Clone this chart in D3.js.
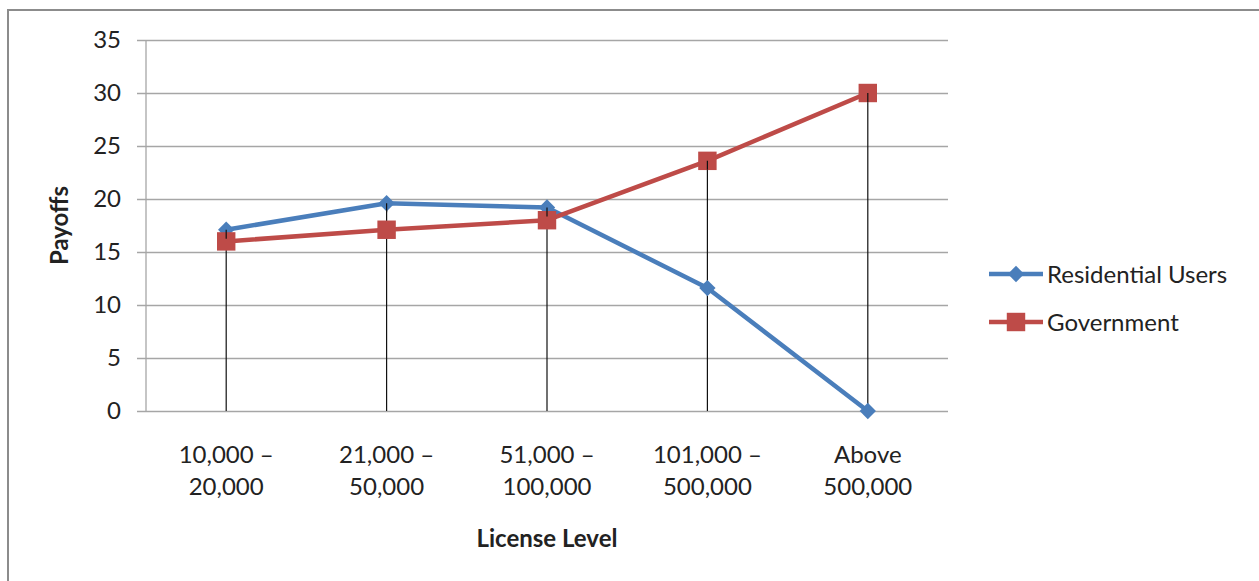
<!DOCTYPE html>
<html>
<head>
<meta charset="utf-8">
<script src="https://cdn.jsdelivr.net/npm/d3@7"></script>
<style>
  html, body { margin: 0; padding: 0; background: #fff; }
  svg { display: block; }
  text { font-family: Lato, "Open Sans", sans-serif; fill: #222; }
</style>
</head>
<body>
<svg id="chart" width="1259" height="581"></svg>
<script>
// License level categories (two-line labels)
const categories = [
  ["10,000 –", "20,000"],
  ["21,000 –", "50,000"],
  ["51,000 –", "100,000"],
  ["101,000 –", "500,000"],
  ["Above", "500,000"]
];
const residentialUsers = [17.1, 19.6, 19.2, 11.6, 0];
const government = [16.0, 17.1, 18.0, 23.6, 30.0];
const yTicks = [0, 5, 10, 15, 20, 25, 30, 35];
const seriesNames = ["Residential Users", "Government"];
const seriesColors = ["#4a7ebb", "#be4b48"];

const FONT_SIZE = 24;
const svg = d3.select("#chart");

// Outer frame (top and left edges)
svg.append("path")
  .attr("d", "M8,581 V10 H1259")
  .attr("fill", "none")
  .attr("stroke", "#8c8c8c")
  .attr("stroke-width", 2);

const plot = { left: 146, right: 948, top: 40, bottom: 411 };

const x = d3.scaleBand()
  .domain(d3.range(categories.length))
  .range([plot.left, plot.right]);
const cx = i => x(i) + x.bandwidth() / 2;

const y = d3.scaleLinear().domain([0, 35]).range([plot.bottom, plot.top]);

// Horizontal gridlines with left tick marks
const yAxis = d3.axisLeft(y)
  .tickValues(yTicks)
  .tickSize(-(plot.right - plot.left))
  .tickPadding(25)
  .tickFormat(d3.format("d"));
const gy = svg.append("g")
  .attr("transform", `translate(${plot.left},0)`)
  .call(yAxis);
gy.select(".domain").remove();
gy.selectAll(".tick line")
  .attr("x1", -9)
  .attr("stroke", "#a6a6a6")
  .attr("stroke-width", 1.3);
gy.selectAll(".tick text")
  .attr("font-size", FONT_SIZE)
  .style("font-family", "Lato, sans-serif")
  .attr("fill", "#222");

// Vertical axis line
svg.append("line")
  .attr("x1", plot.left).attr("x2", plot.left)
  .attr("y1", y(35)).attr("y2", y(0))
  .attr("stroke", "#a6a6a6").attr("stroke-width", 1.3);

// Category labels
const gx = svg.append("g");
categories.forEach((lines, i) => {
  const t = gx.append("text")
    .attr("x", cx(i))
    .attr("y", 463)
    .attr("text-anchor", "middle")
    .attr("font-size", FONT_SIZE);
  lines.forEach((ln, k) => {
    t.append("tspan").attr("x", cx(i)).attr("dy", k === 0 ? 0 : 32).text(ln);
  });
});

// Drop lines from the higher point down to the axis
categories.forEach((_, i) => {
  const top = Math.max(residentialUsers[i], government[i]);
  svg.append("line")
    .attr("x1", cx(i)).attr("x2", cx(i))
    .attr("y1", y(top)).attr("y2", y(0))
    .attr("stroke", "#111").attr("stroke-width", 1.2);
});

const line = d3.line().x((d, i) => cx(i)).y(d => y(d));

// Residential Users
svg.append("path")
  .datum(residentialUsers)
  .attr("d", line)
  .attr("fill", "none")
  .attr("stroke", seriesColors[0])
  .attr("stroke-width", 4.5)
  .attr("stroke-linejoin", "round");

// Government
svg.append("path")
  .datum(government)
  .attr("d", line)
  .attr("fill", "none")
  .attr("stroke", seriesColors[1])
  .attr("stroke-width", 4.5)
  .attr("stroke-linejoin", "round");

const diamond = d3.symbol().type(d3.symbolDiamond2).size(170);
const square = d3.symbol().type(d3.symbolSquare).size(340);

svg.append("g").selectAll("path")
  .data(residentialUsers)
  .join("path")
  .attr("d", diamond)
  .attr("transform", (d, i) => `translate(${cx(i)},${y(d)})`)
  .attr("fill", seriesColors[0]);

svg.append("g").selectAll("path")
  .data(government)
  .join("path")
  .attr("d", square)
  .attr("transform", (d, i) => `translate(${cx(i)},${y(d)})`)
  .attr("fill", seriesColors[1]);

// Drop line stubs drawn over the top markers
categories.forEach((_, i) => {
  const top = Math.max(residentialUsers[i], government[i]);
  svg.append("line")
    .attr("x1", cx(i)).attr("x2", cx(i))
    .attr("y1", y(top)).attr("y2", y(top) + 9)
    .attr("stroke", "#111").attr("stroke-width", 1.2);
});

// Axis titles
svg.append("text")
  .attr("transform", `translate(68,${(plot.top + plot.bottom) / 2}) rotate(-90)`)
  .attr("text-anchor", "middle")
  .attr("font-size", FONT_SIZE)
  .attr("font-weight", "bold")
  .text("Payoffs");

svg.append("text")
  .attr("x", 547)
  .attr("y", 547)
  .attr("text-anchor", "middle")
  .attr("font-size", FONT_SIZE)
  .attr("font-weight", "bold")
  .text("License Level");

// Legend
const legend = svg.append("g");
const legendY = [274, 322];
seriesNames.forEach((name, k) => {
  legend.append("line")
    .attr("x1", 989).attr("x2", 1043)
    .attr("y1", legendY[k]).attr("y2", legendY[k])
    .attr("stroke", seriesColors[k]).attr("stroke-width", 4.5);
  legend.append("path")
    .attr("d", k === 0 ? diamond : square)
    .attr("transform", `translate(1016,${legendY[k]})`)
    .attr("fill", seriesColors[k]);
  legend.append("text")
    .attr("x", 1047)
    .attr("y", legendY[k] + 8.5)
    .attr("font-size", FONT_SIZE)
    .text(name);
});
</script>
</body>
</html>
